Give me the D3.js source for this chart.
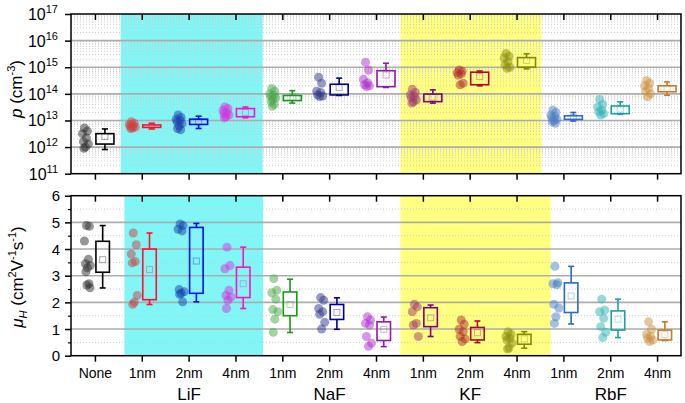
<!DOCTYPE html>
<html><head><meta charset="utf-8">
<script src="https://cdn.jsdelivr.net/npm/d3@7"></script>
<style>body{margin:0;background:#fff} text{font-family:"Liberation Sans",Arial,sans-serif;fill:#000}</style>
</head><body><svg id="c" width="685" height="403"></svg>
<script>
// ---------- data ----------
const categories = ["None","LiF 1nm","LiF 2nm","LiF 4nm","NaF 1nm","NaF 2nm","NaF 4nm","KF 1nm","KF 2nm","KF 4nm","RbF 1nm","RbF 2nm","RbF 4nm"];
const tickLabels = ["None","1nm","2nm","4nm","1nm","2nm","4nm","1nm","2nm","4nm","1nm","2nm","4nm"];
const groupNames = ["LiF","NaF","KF","RbF"];
const groupMid   = ["LiF 2nm","NaF 2nm","KF 2nm","RbF 2nm"];
const shadedGroups = ["LiF","KF"];
const shadeColors = ["#80f6f6","#ffff80"];
const boxColors = ["#000000","#ff1030","#0010ee","#ff10c8","#189a18","#000090","#9018b0","#800080","#b00828","#888800","#2a6ac8","#18a0a8","#c8782a"];
const dotColors = ["#303030","#d04040","#1840b0","#d830e0","#48a848","#303888","#b030d0","#a03868","#b02c2c","#8c8c10","#4a80c4","#30b4b4","#cc9040"];

// hole concentration p (cm^-3): individual samples
const pDots = [
  [5.2e12,4.0e12,3.2e12,2.2e12,1.6e12,1.3e12,1.0e12,0.9e12],
  [8.9e12,7.9e12,7.1e12,6.3e12,6.0e12,5.6e12,5.2e12,5.0e12],
  [1.6e13,1.3e13,1.1e13,1.0e13,8.9e12,7.6e12,6.3e12,5.0e12,4.5e12],
  [3.2e13,2.8e13,2.4e13,2.0e13,1.8e13,1.6e13,1.4e13,1.25e13],
  [1.6e14,1.26e14,1.0e14,8.9e13,7.9e13,7.1e13,6.3e13,5.0e13,4.0e13,3.4e13],
  [4.2e14,2.5e14,1.26e14,1.12e14,9.1e13,8.3e13,7.9e13],
  [1.55e15,7.9e14,3.5e14,2.6e14,2.2e14,2.0e14,1.86e14],
  [1.48e14,1.12e14,9.1e13,7.9e13,7.1e13,5.9e13,5.0e13,4.5e13],
  [7.9e14,7.1e14,6.3e14,5.6e14,5.0e14,2.5e14,2.2e14],
  [3.3e15,2.6e15,2.2e15,1.6e15,1.23e15,1.0e15,9.1e14],
  [2.45e13,2.0e13,1.6e13,1.4e13,1.26e13,1.12e13,1.0e13,8.9e12,7.8e12],
  [6.2e13,4.0e13,3.2e13,2.5e13,2.1e13,1.8e13,1.6e13],
  [3.2e14,2.5e14,2.0e14,1.6e14,1.26e14,1.0e14,7.8e13]
];
// p box statistics
const pLow  = [8.1e11,4.8e12,5.0e12,1.26e13,4.5e13,8.7e13,1.74e14,4.5e13,2.0e14,8.7e14,9.5e12,1.7e13,8.9e13];
const pQ1   = [1.3e12,5.5e12,7.1e12,1.38e13,5.6e13,9.1e13,1.86e14,5.1e13,2.2e14,1.0e15,1.1e13,1.8e13,1.2e14];
const pQ3   = [3.2e12,6.8e12,1.12e13,2.8e13,8.7e13,2.3e14,7.4e14,9.8e13,6.5e14,2.3e15,1.5e13,3.5e13,2.0e14];
const pHigh = [4.8e12,7.8e12,1.45e13,3.2e13,1.32e14,3.9e14,1.41e15,1.41e14,7.2e14,3.2e15,2.0e13,5.0e13,2.8e14];
const pMean = [2.5e12,6.2e12,8.9e12,2.0e13,7.4e13,1.74e14,5.1e14,7.4e13,4.5e14,1.8e15,1.3e13,2.7e13,1.6e14];

// Hall mobility (cm^2 V^-1 s^-1): individual samples
const muDots = [
  [4.88,4.85,4.3,3.62,3.45,3.38,3.3,3.15,2.7,2.65,2.55],
  [4.6,4.16,3.81,3.53,3.48,2.26,2.0,1.93],
  [4.94,4.88,4.74,4.68,2.48,2.4,2.34,2.3,2.02],
  [4.07,3.38,3.26,2.45,2.26,2.2,2.08,1.77],
  [2.89,2.45,2.36,2.12,1.73,1.65,1.37,0.88],
  [2.18,2.08,1.77,1.65,1.55,1.25,1.0],
  [1.46,1.34,1.21,1.15,0.72,0.47,0.35],
  [1.93,1.83,1.65,1.21,1.15,0.72],
  [1.34,1.18,0.99,0.9,0.72,0.63,0.53],
  [0.9,0.8,0.72,0.65,0.59,0.47,0.3,0.25],
  [3.35,2.74,2.7,2.66,1.93,1.79,1.46,1.21],
  [2.12,1.71,1.65,1.4,1.09,0.88,0.68],
  [1.27,0.99,0.8,0.72,0.65,0.59,0.53]
];
const muLow  = [2.54,1.92,2.02,1.77,0.87,0.99,0.34,0.72,0.49,0.28,1.19,0.68,0.57];
const muQ1   = [3.13,2.1,2.34,2.18,1.5,1.36,0.57,1.09,0.59,0.43,1.62,0.96,0.59];
const muQ3   = [4.29,4.0,4.81,3.32,2.39,1.92,1.27,1.8,1.06,0.8,2.73,1.68,0.96];
const muHigh = [4.88,4.6,4.96,4.07,2.87,2.17,1.45,1.9,1.3,0.9,3.35,2.12,1.27];
const muMean = [3.6,3.23,3.55,2.7,1.92,1.62,0.99,1.42,0.86,0.63,2.24,1.37,0.8];

const pTicks = [1e11,1e12,1e13,1e14,1e15,1e16,1e17];
const muTicks = [0,1,2,3,4,5,6];

// ---------- drawing ----------
const svg = d3.select("#c");
const X0 = 71, X1 = 681;
const x = d3.scaleBand().domain(categories).range([X0 + 1, X1]);
const xc = c => x(c) + x.bandwidth()/2;
// fractional category index -> pixel (for the shaded spans)
const xi = d3.scaleLinear().domain([0, 1]).range([xc(categories[0]), xc(categories[1])]);
const jitter = [-1, 2, -3, 1, -2, 3, 0, -1.5, 1.5, -0.5, 2.5];

const panels = [
  {y: d3.scaleLog().domain([1e11,1e17]).range([173.7,14]), dots:pDots, lo:pLow, q1:pQ1, q3:pQ3, hi:pHigh, mean:pMean,
   majors:[1e12,1e13,1e14,1e15,1e16], dotOff:-10, boxW:18, cap:6,
   spans:[[0.54,3.57],[6.51,9.52]]},
  {y: d3.scaleLinear().domain([0,6]).range([355.7,195.7]), dots:muDots, lo:muLow, q1:muQ1, q3:muQ3, hi:muHigh, mean:muMean,
   majors:[1,2,3,4,5], dotOff:-8, boxW:13.5, cap:6,
   spans:[[0.62,3.58],[6.51,9.72]]}
];
const pMinor = [];
[11,12,13,14,15,16].forEach(e => [2,3,4,5,6,7,8,9].forEach(k => pMinor.push(k*Math.pow(10,e))));
panels[0].minors = pMinor;
panels[1].minors = [0.5,1.5,2.5,3.5,4.5,5.5];

panels.forEach((P, pi) => {
  const [yb, yt] = P.y.range();
  const g = svg.append("g");
  // shading
  shadedGroups.forEach((gname, si) => {
    const [a, b] = P.spans[si];
    g.append("rect").attr("x", xi(a)).attr("y", yt)
      .attr("width", xi(b) - xi(a)).attr("height", yb - yt)
      .attr("fill", shadeColors[si]);
  });
  // grid
  g.selectAll(".mn").data(P.minors).join("line")
    .attr("x1", X0).attr("x2", X1).attr("y1", d => P.y(d)).attr("y2", d => P.y(d))
    .attr("stroke", "#cdcdcd").attr("stroke-width", 1).attr("stroke-dasharray", "1,2");
  g.selectAll(".mj").data(P.majors).join("line")
    .attr("x1", X0).attr("x2", X1).attr("y1", d => P.y(d)).attr("y2", d => P.y(d))
    .attr("stroke", "#adadad").attr("stroke-width", 1.6);
  // dots
  categories.forEach((c, i) => {
    g.append("g").selectAll("circle").data(P.dots[i]).join("circle")
      .attr("cx", (d, k) => xc(c) + P.dotOff + jitter[k % jitter.length])
      .attr("cy", d => P.y(d)).attr("r", 4.5)
      .attr("fill", dotColors[i]).attr("fill-opacity", 0.5);
  });
  // boxes
  categories.forEach((c, i) => {
    const col = boxColors[i];
    const bx = xc(c) + 0.5, bm = bx + P.boxW/2;
    const bg = g.append("g").attr("stroke", col).attr("fill", "none").attr("stroke-width", 1.6);
    bg.append("line").attr("x1", bm).attr("x2", bm).attr("y1", P.y(P.hi[i])).attr("y2", P.y(P.q3[i]));
    bg.append("line").attr("x1", bm).attr("x2", bm).attr("y1", P.y(P.q1[i])).attr("y2", P.y(P.lo[i]));
    bg.append("line").attr("x1", bm - P.cap/2).attr("x2", bm + P.cap/2).attr("y1", P.y(P.hi[i])).attr("y2", P.y(P.hi[i]));
    bg.append("line").attr("x1", bm - P.cap/2).attr("x2", bm + P.cap/2).attr("y1", P.y(P.lo[i])).attr("y2", P.y(P.lo[i]));
    bg.append("rect").attr("x", bx).attr("y", P.y(P.q3[i])).attr("width", P.boxW)
      .attr("height", Math.max(1, P.y(P.q1[i]) - P.y(P.q3[i])));
    bg.append("rect").attr("x", bm - 3).attr("y", P.y(P.mean[i]) - 3).attr("width", 6).attr("height", 6)
      .attr("stroke-width", 1).attr("stroke-opacity", 0.35);
  });
  // frame
  g.append("rect").attr("x", X0).attr("y", yt).attr("width", X1 - X0).attr("height", yb - yt)
    .attr("fill", "none").attr("stroke", "#000").attr("stroke-width", 1.5);
  // x ticks
  const xb = d3.axisBottom(x).tickSizeInner(6).tickSizeOuter(0).tickFormat("");
  const xt = d3.axisTop(x).tickSizeInner(-6).tickSizeOuter(0).tickFormat("");
  const gxb = g.append("g").attr("transform", `translate(0,${yb})`).call(xb);
  const gxt = g.append("g").attr("transform", `translate(0,${yt})`).call(xt);
  [gxb, gxt].forEach(a => { a.select(".domain").remove(); a.selectAll("line").attr("stroke-width", 1.5); });
});

// y axes
const P0 = panels[0], P1 = panels[1];
const ay0 = svg.append("g").attr("transform", `translate(${X0},0)`)
  .call(d3.axisLeft(P0.y).tickValues(pTicks).tickSize(6).tickFormat(""));
ay0.select(".domain").remove(); ay0.selectAll("line").attr("stroke-width", 1.5);
pTicks.forEach(v => {
  const t = svg.append("text").attr("x", 58).attr("y", P0.y(v) + 6).attr("text-anchor", "end").attr("font-size", 16);
  t.append("tspan").text("10");
  t.append("tspan").attr("dy", -7).attr("font-size", 11).text(String(Math.round(Math.log10(v))));
});
const ay1 = svg.append("g").attr("transform", `translate(${X0},0)`)
  .call(d3.axisLeft(P1.y).tickValues(muTicks).tickSize(6).tickFormat(""));
ay1.select(".domain").remove(); ay1.selectAll("line").attr("stroke-width", 1.5);
const ay1m = svg.append("g").attr("transform", `translate(${X0},0)`)
  .call(d3.axisLeft(P1.y).tickValues(P1.minors).tickSize(3).tickFormat(""));
ay1m.select(".domain").remove(); ay1m.selectAll("line").attr("stroke-width", 1.2);
muTicks.forEach(v => {
  svg.append("text").attr("x", 60).attr("y", P1.y(v) + 5.5).attr("text-anchor", "end").attr("font-size", 15).text(v);
});

// category labels
categories.forEach((c, i) => {
  svg.append("text").attr("x", xc(c)).attr("y", 378).attr("text-anchor", "middle").attr("font-size", 14).text(tickLabels[i]);
});
groupNames.forEach((gname, gi) => {
  svg.append("text").attr("x", xc(groupMid[gi])).attr("y", 400).attr("text-anchor", "middle").attr("font-size", 17).text(gname);
});

// axis titles
const t0 = svg.append("text").attr("transform", "translate(22,89) rotate(-90)").attr("text-anchor", "middle").attr("font-size", 17);
t0.append("tspan").attr("font-style", "italic").text("p");
t0.append("tspan").text(" (cm");
t0.append("tspan").attr("dy", -7).attr("font-size", 11).text("-3");
t0.append("tspan").attr("dy", 7).text(")");

const t1 = svg.append("text").attr("transform", "translate(23,277) rotate(-90)").attr("text-anchor", "middle").attr("font-size", 17);
t1.append("tspan").attr("font-style", "italic").text("μ");
t1.append("tspan").attr("dy", 4).attr("font-size", 11).attr("font-style", "italic").text("H");
t1.append("tspan").attr("dy", -4).text(" (cm");
t1.append("tspan").attr("dy", -7).attr("font-size", 11).text("2");
t1.append("tspan").attr("dy", 7).text("V");
t1.append("tspan").attr("dy", -7).attr("font-size", 11).text("-1");
t1.append("tspan").attr("dy", 7).text("s");
t1.append("tspan").attr("dy", -7).attr("font-size", 11).text("-1");
t1.append("tspan").attr("dy", 7).text(")");
</script>
</body></html>
